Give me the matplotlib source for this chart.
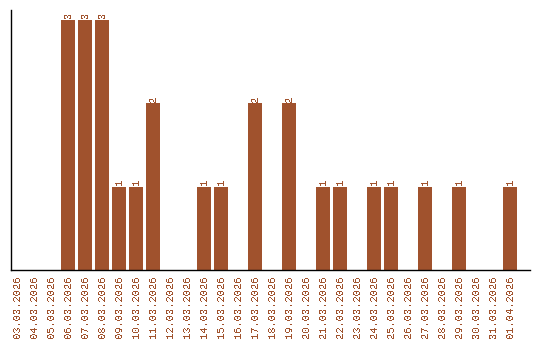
import matplotlib
matplotlib.use("Agg")
import matplotlib.pyplot as plt

dates = ["03.03.2026", "04.03.2026", "05.03.2026", "06.03.2026", "07.03.2026",
         "08.03.2026", "09.03.2026", "10.03.2026", "11.03.2026", "12.03.2026",
         "13.03.2026", "14.03.2026", "15.03.2026", "16.03.2026", "17.03.2026",
         "18.03.2026", "19.03.2026", "20.03.2026", "21.03.2026", "22.03.2026",
         "23.03.2026", "24.03.2026", "25.03.2026", "26.03.2026", "27.03.2026",
         "28.03.2026", "29.03.2026", "30.03.2026", "31.03.2026", "01.04.2026"]
counts = [0, 0, 0, 3, 3, 3, 1, 1, 2, 0,
          0, 1, 1, 0, 2, 0, 2, 0, 1, 1,
          0, 1, 1, 0, 1, 0, 1, 0, 0, 1]

color = "#A0522D"
plt.rcParams["font.family"] = ["Liberation Mono", "DejaVu Sans Mono"]
plt.rcParams["text.antialiased"] = False

fig = plt.figure(figsize=(5.4, 3.4), dpi=100)
ax = fig.add_axes([11/540, 70/340, 519/540, 260/340])
x = list(range(len(dates)))
ax.bar(x, counts, width=0.82, color=color, linewidth=0)
for xi, c in zip(x, counts):
    if c > 0:
        ax.text(xi, c + 0.02, str(c), rotation=90, ha="center", va="bottom",
                fontsize=7.5, color=color)
ax.set_xlim(-6/17, 29 + 20/17)
ax.set_ylim(0, 3 + 10/83.3)
ax.set_xticks(x)
ax.set_xticklabels(dates, rotation=90, fontsize=7.5, color=color)
ax.tick_params(axis="x", length=0, pad=4)
ax.set_yticks([])
ax.spines["top"].set_visible(False)
ax.spines["right"].set_visible(False)
ax.spines["left"].set_linewidth(1.0)
ax.spines["bottom"].set_linewidth(1.0)
fig.savefig("out.png", dpi=100)
